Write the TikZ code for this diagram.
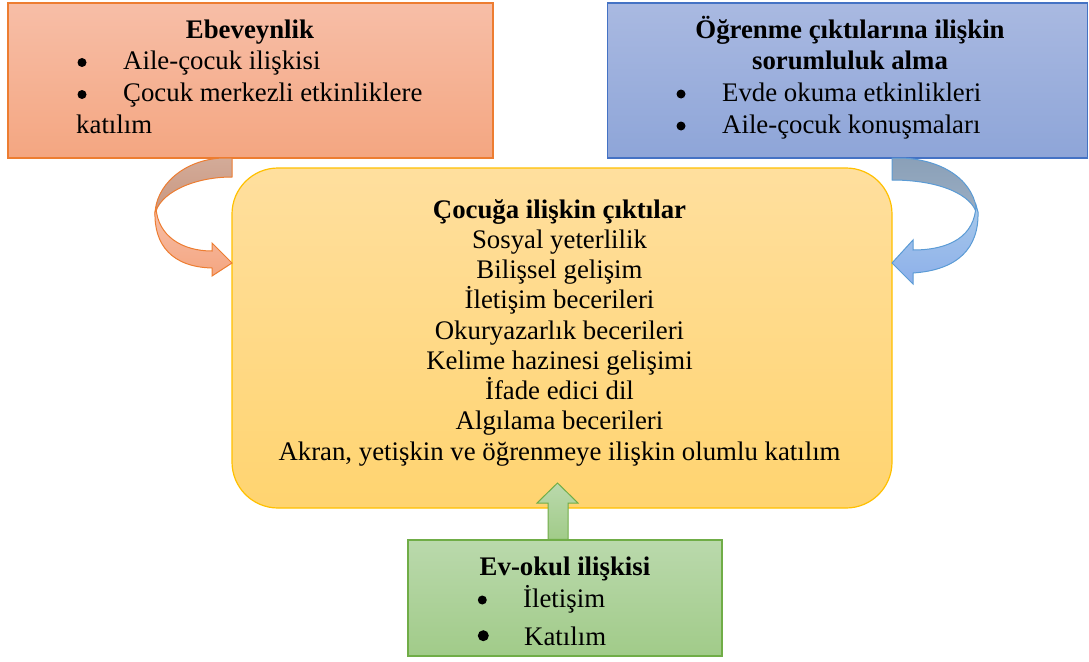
\documentclass[tikz,border=0pt]{standalone}
\usepackage{fontspec}
\setmainfont{Liberation Serif}
\definecolor{orLine}{HTML}{ED7D31}
\definecolor{orTop}{HTML}{F7BEA7}
\definecolor{orBot}{HTML}{F4A681}
\definecolor{orBack}{HTML}{C8967F}
\definecolor{blLine}{HTML}{4472C4}
\definecolor{blTop}{HTML}{A9B9E1}
\definecolor{blBot}{HTML}{8EA5D8}
\definecolor{blArrLine}{HTML}{5B9BD5}
\definecolor{blBack}{HTML}{8AA0B8}
\definecolor{blFront}{HTML}{9DC3E8}
\definecolor{yeLine}{HTML}{FFC000}
\definecolor{yeTop}{HTML}{FFDF9E}
\definecolor{yeBot}{HTML}{FFD470}
\definecolor{grLine}{HTML}{70AD47}
\definecolor{grTop}{HTML}{BAD9AC}
\definecolor{grBot}{HTML}{A1CB89}
\begin{document}
\begin{tikzpicture}[x=1pt,y=-1pt,
  box/.style={draw, line width=1.2pt, inner sep=0pt},
  line/.style={anchor=base, inner sep=0pt, font=\fontsize{26.8}{30}\selectfont},
  lineW/.style={anchor=base west, inner sep=0pt, font=\fontsize{26.8}{30}\selectfont},
  head/.style={line, font=\fontsize{26.8}{30}\selectfont\bfseries},
  dot/.style={circle, fill=black, inner sep=0pt, minimum size=9pt}]
\useasboundingbox (0,0) rectangle (1089,661);

% boxes
\node[box, draw=orLine, top color=orTop, bottom color=orBot,
      minimum width=485pt, minimum height=155pt] (par) at (250.5,80.5) {};
\node[box, draw=blLine, top color=blTop, bottom color=blBot,
      minimum width=480pt, minimum height=155pt] (resp) at (847.5,80.5) {};
\node[box, draw=yeLine, top color=yeTop, bottom color=yeBot, rounded corners=46pt,
      minimum width=660pt, minimum height=340pt] (child) at (562,338) {};
\node[box, draw=grLine, top color=grTop, bottom color=grBot,
      minimum width=314pt, minimum height=116pt] (home) at (565,598) {};

% curved arrow from the parenting box
\path[draw=orLine, line width=1pt, top color=orBack!80!white, bottom color=orBack]
  (232,158) -- (222,158) .. controls (183,160) and (155,186) .. (155,215)
  .. controls (158,194) and (192,177) .. (232,177) -- cycle;
\path[draw=orLine, line width=1pt, top color=orTop, bottom color=orBot]
  (156,208) .. controls (158,236) and (182,251) .. (212,251) -- (212,243)
  -- (232,263) -- (212,276) -- (212,268)
  .. controls (172,267) and (154,245) .. (155,212) -- cycle;

% curved arrow from the responsibility box
\path[draw=blArrLine, line width=1pt, top color=blBack, bottom color=blBack!85!white]
  (892,158) -- (902,158) .. controls (945,160) and (976,182) .. (977,215)
  .. controls (973,195) and (940,180) .. (892,180) -- cycle;
\path[draw=blArrLine, line width=1pt, top color=blFront!90!white, bottom color=blFront!90!blue]
  (976,205) .. controls (975,236) and (950,250) .. (913,250) -- (913,240)
  -- (892,263) -- (913,284) -- (913,273)
  .. controls (958,270) and (979,248) .. (978,212) -- cycle;

% straight arrow from the home-school box
\path[draw=grLine, line width=1pt, top color=grTop, bottom color=grBot]
  (home.north -| 548,0) -- (548,503) -- (537,503) -- (557.5,483) -- (578,503)
  -- (568,503) -- (home.north -| 568,0) -- cycle;

% parenting text
\node[head] (parT) at (250,38) {Ebeveynlik};
\node[dot] (parB1) at (82,62.5) {};
\node[lineW] (parL1) at (123,70) {Aile-çocuk ilişkisi};
\node[dot] (parB2) at (82,94.5) {};
\node[lineW] (parL2) at (123,101.5) {Çocuk merkezli etkinliklere};
\node[lineW] (parL3) at (76,133) {katılım};

% responsibility text
\node[head] (respT1) at (850,39) {Öğrenme çıktılarına ilişkin};
\node[head] (respT2) at (850,69.5) {sorumluluk alma};
\node[dot] (respB1) at (681,94) {};
\node[lineW] (respL1) at (722,101) {Evde okuma etkinlikleri};
\node[dot] (respB2) at (681,126) {};
\node[lineW] (respL2) at (722,133) {Aile-çocuk konuşmaları};

% child outcomes text
\node[head] (c0) at (559.5,218) {Çocuğa ilişkin çıktılar};
\node[line] (c1) at (559.5,248.25) {Sosyal yeterlilik};
\node[line] (c2) at (559.5,278.5) {Bilişsel gelişim};
\node[line] (c3) at (559.5,308.75) {İletişim becerileri};
\node[line] (c4) at (559.5,339) {Okuryazarlık becerileri};
\node[line] (c5) at (559.5,369.25) {Kelime hazinesi gelişimi};
\node[line] (c6) at (559.5,399.5) {İfade edici dil};
\node[line] (c7) at (559.5,429.75) {Algılama becerileri};
\node[line] (c8) at (559.5,460) {Akran, yetişkin ve öğrenmeye ilişkin olumlu katılım};

% home-school text
\node[head] (homeT) at (565,575) {Ev-okul ilişkisi};
\node[dot] (homeB1) at (482.3,600) {};
\node[lineW] (homeL1) at (523,607.5) {İletişim};
\node[dot, minimum size=11pt] (homeB2) at (483.3,635.7) {};
\node[lineW] (homeL2) at (524,645) {Katılım};
\end{tikzpicture}
\end{document}
